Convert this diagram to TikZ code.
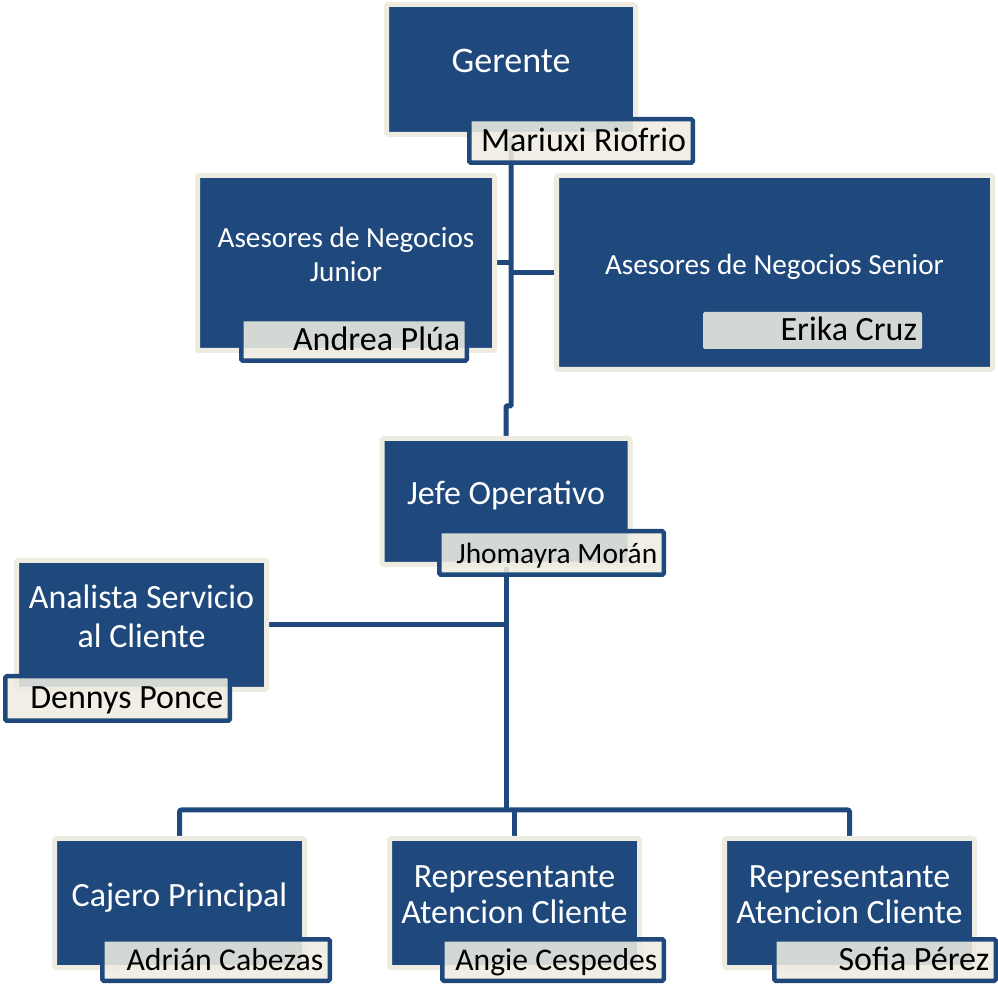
\documentclass[tikz,border=0pt]{standalone}
\usepackage{fontspec}
\setmainfont{Carlito}
\usepackage{tikz}
\usetikzlibrary{positioning,backgrounds,calc}
\definecolor{office-bl}{RGB}{31,73,125}
\definecolor{office-cr}{RGB}{238,236,225}
\newlength{\pxl}
\setlength{\pxl}{0.5pt}
\tikzstyle{postbox}=[draw=office-cr,line width=5\pxl,fill=office-bl,rounded corners=1.5\pxl,text=white,align=center,inner sep=0pt,text depth=8.5pt,font=\fontsize{17}{19.5}\selectfont]
\tikzstyle{holder}=[draw=office-bl,line width=4.5\pxl,fill=office-cr,fill opacity=0.88,text opacity=1,text=black,rounded corners=1.5\pxl,align=flush right,inner xsep=6.5\pxl,inner ysep=0pt,text height=11.5pt,text depth=1pt,font=\fontsize{17}{20}\selectfont]
\tikzstyle{conn}=[draw=office-bl,line width=5\pxl,rounded corners=2\pxl]

\begin{document}
\begin{tikzpicture}[x=0.5pt,y=-0.5pt]
  \useasboundingbox (0,0) rectangle (998,984);

  \node[postbox,minimum width=249\pxl,minimum height=130\pxl,text depth=9pt,font=\fontsize{18}{21}\selectfont] at (511,69.5) (gerente) {Gerente};

  \node[postbox,minimum width=297\pxl,minimum height=175\pxl,font=\fontsize{14.6}{17}\selectfont] at (346,263) (junior) {Asesores de Negocios\\Junior};
  \node[postbox,minimum width=436\pxl,minimum height=194\pxl,font=\fontsize{14.6}{17}\selectfont] at (774.5,272.5) (senior) {Asesores de Negocios Senior};

  \node[postbox,minimum width=248\pxl,minimum height=126\pxl] at (506,501.5) (jefe) {Jefe Operativo};
  \node[postbox,minimum width=250\pxl,minimum height=129\pxl] at (141.5,625) (analista) {Analista Servicio\\al Cliente};

  \node[postbox,minimum width=250\pxl,minimum height=129\pxl] at (179.5,903) (cajero) {Cajero Principal};
  \node[postbox,minimum width=250\pxl,minimum height=129\pxl,font=\fontsize{17}{18}\selectfont] at (514.5,903) (atencion1) {Representante\\Atencion Cliente};
  \node[postbox,minimum width=250\pxl,minimum height=129\pxl,font=\fontsize{17}{18}\selectfont] at (849.5,903) (atencion2) {Representante\\Atencion Cliente};

  % connectors behind the boxes
  \begin{scope}[on background layer]
    \draw[conn,rounded corners=1\pxl] (gerente.south) -- (gerente.south|-0,406) -| (jefe.north);
    \draw[conn] (junior.east) -- (junior.east-|gerente.south);
    \draw[conn] (senior.west) -- (senior.west-|gerente.south);
    \coordinate (bar) at (jefe.south|-0,810);
    \draw[conn] (jefe.south) -- (bar);
    \draw[conn] (analista.east) -- (analista.east-|jefe.south);
    \draw[conn] (cajero.north) |- (bar) -| (atencion2.north);
    \draw[conn] (bar-|atencion1.north) -- (atencion1.north);
  \end{scope}

  \node[holder,text width=210.5\pxl,minimum height=43.5\pxl] at (581,141) (mariuxi) {Mariuxi Riofrio};
  \node[holder,text width=212.5\pxl,minimum height=41.5\pxl] at (354,340) (andrea) {Andrea Plúa};
  \node[holder,draw=none,inner xsep=5\pxl,text width=209\pxl,minimum height=37\pxl] at (812.5,330.5) (erika) {Erika Cruz};
  \node[holder,text width=211.5\pxl,minimum height=43.5\pxl,font=\fontsize{14.7}{17}\selectfont] at (551.5,553) (jhomayra) {Jhomayra Morán};
  \node[holder,text width=211.5\pxl,minimum height=44.5\pxl] at (117.5,698.5) (dennys) {Dennys Ponce};
  \node[holder,text width=214.5\pxl,minimum height=41.5\pxl,font=\fontsize{15.9}{18}\selectfont] at (216,960) (adrian) {Adrián Cabezas};
  \node[holder,text width=208.5\pxl,minimum height=41.5\pxl,font=\fontsize{15.8}{18}\selectfont] at (553,960) (angie) {Angie Cespedes};
  \node[holder,text width=208.5\pxl,minimum height=41.5\pxl] at (885,960) (sofia) {Sofia Pérez};

\end{tikzpicture}
\end{document}
